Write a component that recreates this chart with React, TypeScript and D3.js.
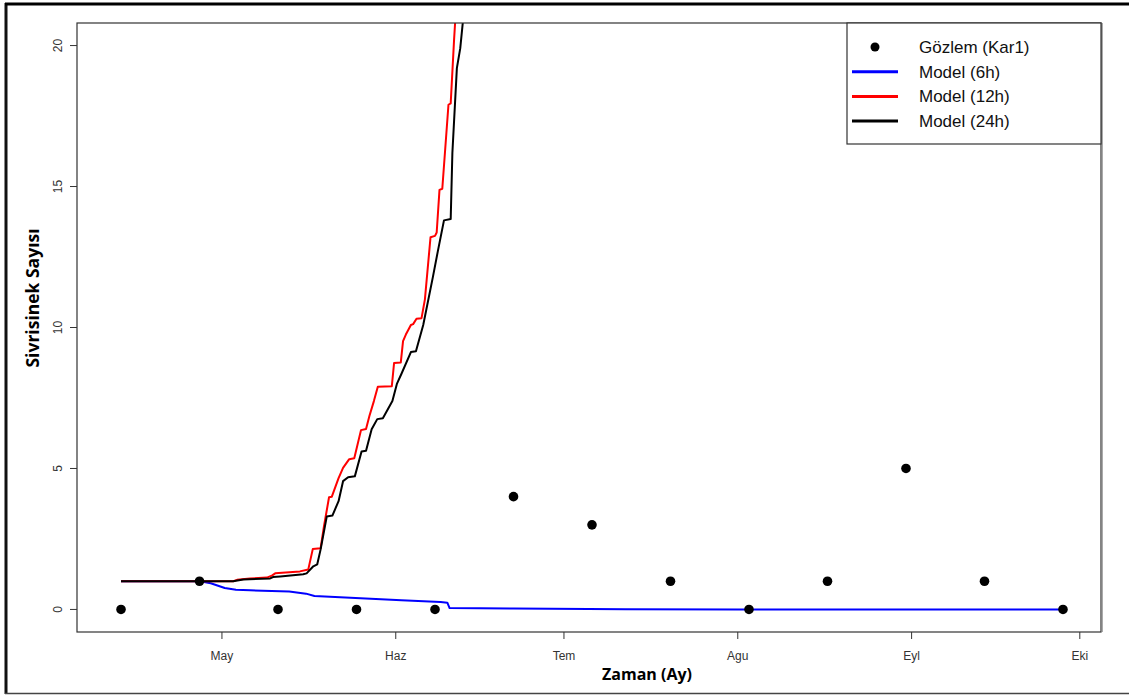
import React from "react";
import * as d3 from "d3";

const startDate = new Date(2019, 3, 13);
const obsDays = [0, 14, 28, 42, 56, 70, 84, 98, 112, 126, 140, 154, 168];
const obsValues = [0, 1, 0, 0, 0, 4, 3, 1, 0, 1, 5, 1, 0];

const m6Days = [0, 14.1, 16.0, 18.5, 20.5, 23, 30, 33, 34.5, 40, 50, 57, 58.2, 58.6, 70, 90, 110, 168];
const m6Values = [1.0, 1.0, 0.93, 0.76, 0.7, 0.68, 0.64, 0.56, 0.48, 0.42, 0.33, 0.26, 0.24, 0.05, 0.03, 0.01, 0.0, 0.0];

const m12Days = [0, 14.1, 20.0, 20.7, 23.0, 26.0, 26.9, 27.5, 31.9, 33.4, 34.2, 35.6, 36.2, 37.1, 37.6, 38.8, 39.6, 40.7, 41.6, 41.9, 42.8, 43.7, 44.3, 45.1, 45.8, 48.3, 48.7, 49.9, 50.3, 50.8, 51.7, 52.1, 52.7, 53.6, 54.2, 55.2, 56.0, 56.3, 56.8, 57.3, 58.4, 58.8, 59.4, 60.1];
const m12Values = [1.0, 1.0, 1.0, 1.05, 1.1, 1.13, 1.2, 1.28, 1.35, 1.42, 2.14, 2.17, 2.95, 3.98, 4.0, 4.66, 5.02, 5.33, 5.36, 5.61, 6.36, 6.4, 6.86, 7.39, 7.9, 7.92, 8.74, 8.76, 9.52, 9.75, 10.09, 10.12, 10.31, 10.33, 11.0, 13.2, 13.25, 13.37, 14.88, 14.92, 17.9, 17.95, 20.2, 22.5];

const m24Days = [0, 20.0, 21.8, 26.6, 27.1, 28.4, 32.5, 33.1, 34.3, 35.0, 35.6, 36.7, 37.7, 38.8, 39.6, 40.5, 41.7, 42.9, 43.7, 44.7, 45.7, 46.7, 48.4, 49.2, 50.0, 51.7, 52.6, 53.9, 55.6, 56.5, 57.6, 58.8, 59.1, 59.9, 60.5, 61.0, 61.5];
const m24Values = [1.0, 1.0, 1.06, 1.1, 1.15, 1.17, 1.25, 1.28, 1.53, 1.6, 2.13, 3.3, 3.33, 3.84, 4.55, 4.69, 4.72, 5.6, 5.63, 6.39, 6.75, 6.78, 7.39, 8.0, 8.35, 9.13, 9.16, 10.09, 11.77, 12.7, 13.8, 13.85, 16.2, 19.2, 19.9, 20.9, 22.0];

const monthTicks = [new Date(2019, 4, 1), new Date(2019, 5, 1), new Date(2019, 6, 1), new Date(2019, 7, 1), new Date(2019, 8, 1), new Date(2019, 9, 1)];
const monthLabels = ["May", "Haz", "Tem", "Agu", "Eyl", "Eki"];
const yTicks = [0, 5, 10, 15, 20];

const legendLabels = ["Gözlem (Kar1)", "Model (6h)", "Model (12h)", "Model (24h)"];
const seriesColors = ["#000000", "#0000ff", "#ff0000", "#000000"];

const W = 1129;
const H = 695;
const plot = { left: 77, right: 1101, top: 23, bottom: 632 };

const toDate = (d: number) => new Date(startDate.getTime() + d * 86400000);

export default function App() {
  const x = d3
    .scaleTime()
    .domain([toDate(-7.85), toDate(174.78)])
    .range([plot.left, plot.right]);
  const y = d3.scaleLinear().domain([-0.8, 20.8]).range([plot.bottom, plot.top]);

  const line = d3
    .line<[number, number]>()
    .x((p) => x(toDate(p[0])))
    .y((p) => y(p[1]));

  const mk = (days: number[], vals: number[]) => days.map((d, i) => [d, vals[i]] as [number, number]);
  const models = [
    { pts: mk(m6Days, m6Values), color: seriesColors[1] },
    { pts: mk(m12Days, m12Values), color: seriesColors[2] },
    { pts: mk(m24Days, m24Values), color: seriesColors[3] },
  ];

  const legX = 847;
  const legY = 23;
  const legW = 254;
  const legH = 121;

  return (
    <svg width={W} height={H} style={{ position: "absolute", left: 0, top: 0, background: "#fff" }}>
      <defs>
        <clipPath id="plotClip">
          <rect x={plot.left} y={plot.top} width={plot.right - plot.left} height={plot.bottom - plot.top} />
        </clipPath>
      </defs>
      {/* outer frame */}
      <line x1={6} y1={3} x2={6} y2={694} stroke="#111" strokeWidth={3} />
      <line x1={5} y1={4} x2={W} y2={4} stroke="#000" strokeWidth={3} />
      <line x1={5} y1={693.5} x2={W} y2={693.5} stroke="#444" strokeWidth={1.5} />

      {/* models */}
      <g clipPath="url(#plotClip)">
        {models.map((m, i) => (
          <path key={i} d={line(m.pts) || ""} fill="none" stroke={m.color} strokeWidth={2} strokeLinejoin="round" />
        ))}
        {obsDays.map((d, i) => (
          <circle key={i} cx={x(toDate(d))} cy={y(obsValues[i])} r={4.8} fill="#000" />
        ))}
      </g>

      {/* plot box */}
      <rect x={plot.left} y={plot.top} width={plot.right - plot.left} height={plot.bottom - plot.top} fill="none" stroke="#333" strokeWidth={1.2} />
      <line x1={plot.right + 1.5} y1={plot.top} x2={plot.right + 1.5} y2={plot.bottom} stroke="#aaa" strokeWidth={1} />

      {/* y axis */}
      {yTicks.map((t) => (
        <g key={t}>
          <line x1={plot.left - 7} x2={plot.left} y1={y(t)} y2={y(t)} stroke="#333" strokeWidth={1} />
          <text
            transform={`translate(${plot.left - 15},${y(t)}) rotate(-90)`}
            textAnchor="middle"
            fontFamily="Liberation Sans, Arial, sans-serif"
            fontSize={12}
            fill="#333"
          >
            {t}
          </text>
        </g>
      ))}
      <text
        transform={`translate(39,${298}) rotate(-90)`}
        textAnchor="middle"
        fontFamily="Open Sans, sans-serif"
        fontWeight="bold"
        fontSize={17.5}
        fill="#000"
      >
        Sivrisinek Sayısı
      </text>

      {/* x axis */}
      {monthTicks.map((t, i) => (
        <g key={i}>
          <line x1={x(t)} x2={x(t)} y1={plot.bottom} y2={plot.bottom + 7} stroke="#333" strokeWidth={1} />
          <text
            x={x(t)}
            y={plot.bottom + 28}
            textAnchor="middle"
            fontFamily="Liberation Sans Narrow, Liberation Sans, Arial, sans-serif"
            fontSize={12}
            fill="#333"
          >
            {monthLabels[i]}
          </text>
        </g>
      ))}
      <text
        x={647}
        y={680}
        textAnchor="middle"
        fontFamily="Open Sans, sans-serif"
        fontWeight="bold"
        fontSize={16}
        fill="#000"
      >
        Zaman (Ay)
      </text>

      {/* legend */}
      <rect x={legX} y={legY} width={legW} height={legH} fill="#fff" stroke="#333" strokeWidth={1.2} />
      {legendLabels.map((lab, i) => {
        const ry = 47 + i * 24.7;
        return (
          <g key={lab}>
            {i === 0 ? (
              <circle cx={875} cy={ry} r={4.5} fill="#000" />
            ) : (
              <line x1={852} x2={898} y1={ry} y2={ry} stroke={seriesColors[i]} strokeWidth={3} />
            )}
            <text x={919} y={ry + 6} fontFamily="Liberation Sans, Arial, sans-serif" fontSize={17} fill="#111">
              {lab}
            </text>
          </g>
        );
      })}
    </svg>
  );
}
